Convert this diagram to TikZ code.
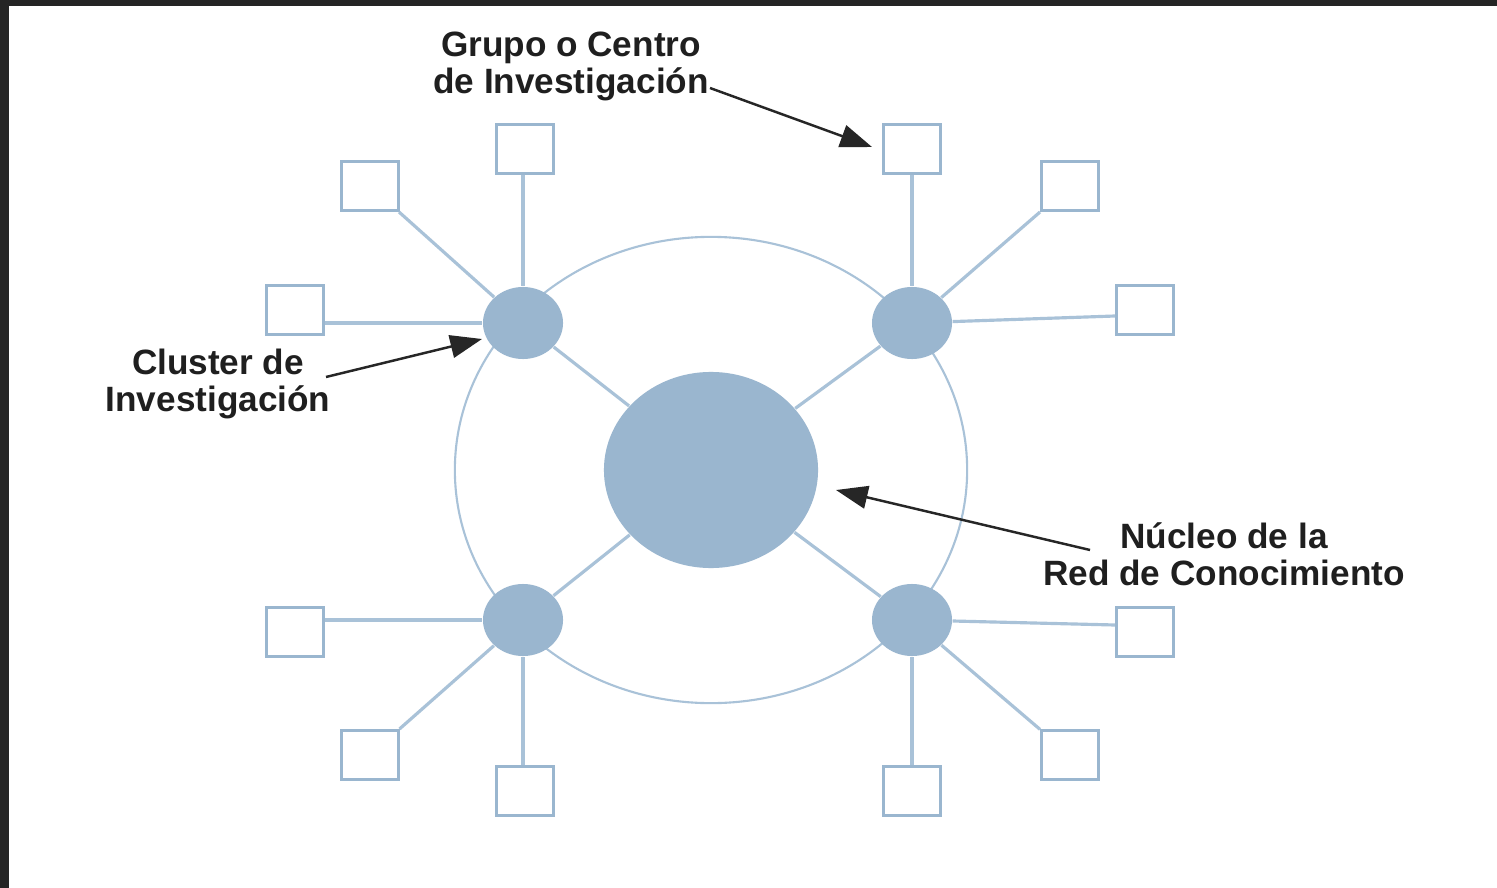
\documentclass[tikz,border=0pt]{standalone}
\usepackage{fontspec}
\setmainfont{Liberation Sans}
\usetikzlibrary{shapes.geometric,arrows.meta}
\definecolor{netblue}{HTML}{9AB6CF}
\definecolor{linkblue}{HTML}{A9C2D8}
\definecolor{framegray}{HTML}{252525}
\tikzset{
    group-box/.style = {draw=netblue, fill=white, line width=0.85pt, rectangle, minimum width=0.57cm, minimum height=0.49cm, inner sep=0pt},
    cluster-dot/.style = {fill=netblue, ellipse, minimum width=0.8cm, minimum height=0.72cm, inner sep=0pt},
    core-dot/.style = {fill=netblue, ellipse, minimum width=2.14cm, minimum height=1.96cm, inner sep=0pt},
    link/.style = {draw=linkblue, line width=0.9pt},
    label-text/.style = {font=\bfseries\fontsize{10}{10.5}\selectfont, align=center, text=black!88},
    pointer/.style = {draw=black!85, line width=0.7pt, -{Triangle[length=9pt, width=6.5pt]}},
}

\begin{document}
\begin{tikzpicture}[x=0.01cm, y=-0.01cm]
\useasboundingbox (0,0) rectangle (1497,888);
\fill[framegray] (0,0) rectangle (1497,888);
\fill[white] (9,6) rectangle (1497,888);

% ring of the network
\draw[link, line width=0.6pt] (711,470) ellipse [x radius=2.56cm, y radius=2.33cm];

% core and clusters
\node[core-dot] (core) at (711,470) {};
\node[cluster-dot] (tl) at (523,323) {};
\node[cluster-dot] (tr) at (912,323) {};
\node[cluster-dot] (bl) at (523,620) {};
\node[cluster-dot] (br) at (912,620) {};

% research groups
\node[group-box] (tl-a) at (525,149) {};
\node[group-box] (tl-b) at (370,186) {};
\node[group-box] (tl-c) at (295,310) {};
\node[group-box] (tr-a) at (912,149) {};
\node[group-box] (tr-b) at (1070,186) {};
\node[group-box] (tr-c) at (1145,310) {};
\node[group-box] (bl-a) at (295,632) {};
\node[group-box] (bl-b) at (370,755) {};
\node[group-box] (bl-c) at (525,791) {};
\node[group-box] (br-a) at (1145,632) {};
\node[group-box] (br-b) at (1070,755) {};
\node[group-box] (br-c) at (912,791) {};

\draw[link] (tl) -- (core);
\draw[link] (tr) -- (core);
\draw[link] (bl) -- (core);
\draw[link] (br) -- (core);
\draw[link] (tl-a.south -| tl) -- (tl);
\draw[link] (tl) -- (tl-b);
\draw[link] (tl-c.east |- tl) -- (tl);
\draw[link] (tr-a.south -| tr) -- (tr);
\draw[link] (tr) -- (tr-b);
\draw[link] (tr-c.west |- 0,316) -- (tr);
\draw[link] (bl-a.east |- bl) -- (bl);
\draw[link] (bl) -- (bl-b);
\draw[link] (bl-c.north -| bl) -- (bl);
\draw[link] (br-a.west |- 0,625) -- (br);
\draw[link] (br) -- (br-b);
\draw[link] (br-c.north -| br) -- (br);

% labels
\node[label-text] (group-label) at (571,66) {Grupo o Centro\\de Investigación};
\node[label-text] (cluster-label) at (218,384) {Cluster de\\Investigación};
\node[label-text] (core-label) at (1224,554) {Núcleo de la\\Red de Conocimiento};

\coordinate (group-from) at (710,88);
\coordinate (group-to) at (872,147);
\coordinate (cluster-from) at (326,377);
\coordinate (cluster-to) at (482,339);
\coordinate (core-from) at (1090,550);
\coordinate (core-to) at (836,490);
\draw[pointer] (group-from) -- (group-to);
\draw[pointer] (cluster-from) -- (cluster-to);
\draw[pointer] (core-from) -- (core-to);
\end{tikzpicture}
\end{document}
